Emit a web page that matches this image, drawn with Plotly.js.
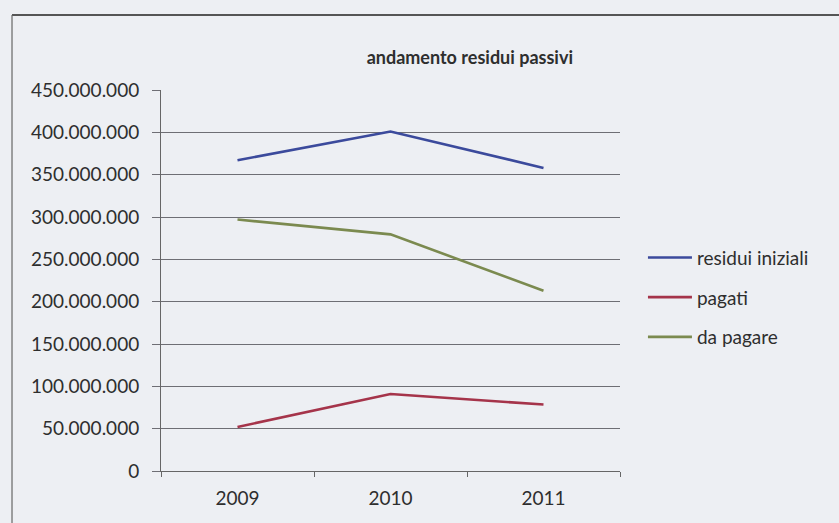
<!DOCTYPE html>
<html>
<head>
<meta charset="utf-8">
<script src="https://cdn.plot.ly/plotly-3.0.1.min.js"></script>
<style>
html,body{margin:0;padding:0;background:#edeff3;}
#chart{width:839px;height:523px;}
</style>
</head>
<body>
<div id="chart"></div>
<script>
var years = ['2009', '2010', '2011'];
var residuiIniziali = [367000000, 401000000, 358000000];
var pagati = [52000000, 91000000, 78500000];
var daPagare = [297000000, 279500000, 213000000];
var seriesNames = ['residui iniziali', 'pagati', 'da pagare'];
var yTicks = [0, 50000000, 100000000, 150000000, 200000000, 250000000, 300000000, 350000000, 400000000, 450000000];

var colors = ['#3b4a9c', '#a5344a', '#7b8a4f'];
var seriesValues = [residuiIniziali, pagati, daPagare];

var traces = seriesValues.map(function (vals, i) {
  return {
    type: 'scatter',
    mode: 'lines',
    x: years,
    y: vals,
    name: seriesNames[i],
    legendgroup: 'g' + i,
    line: {color: colors[i], width: 2.6},
    hoverinfo: 'none'
  };
});

var font = 'Lato, "Open Sans", sans-serif';
var txt = '#2e2e2e';
var layout = {
  width: 839,
  height: 523,
  paper_bgcolor: '#edeff3',
  plot_bgcolor: '#edeff3',
  separators: ',.',
  margin: {l: 161, r: 219, t: 90, b: 52},
  font: {family: font, size: 19, color: txt},
  title: {
    text: '<b>andamento residui passivi</b>',
    font: {family: font, size: 18, color: txt},
    xref: 'container', yref: 'container',
    x: 0.56, xanchor: 'center',
    y: 0.889, yanchor: 'middle'
  },
  xaxis: {
    type: 'category',
    range: [-0.5, 2.5],
    tickson: 'boundaries',
    ticks: 'outside',
    ticklen: 5,
    tickcolor: '#666',
    ticklabelstandoff: 10,
    showgrid: false,
    showline: true,
    linecolor: '#666',
    linewidth: 1,
    tickfont: {family: font, size: 19, color: txt},
    fixedrange: true
  },
  yaxis: {
    range: [0, 450000000],
    tickvals: yTicks,
    tickformat: ',d',
    ticks: 'outside',
    ticklen: 8,
    tickcolor: '#6e6e74',
    ticklabelstandoff: 9,
    showgrid: true,
    gridcolor: '#6e6e74',
    gridwidth: 1,
    showline: true,
    linecolor: '#666',
    linewidth: 1,
    zeroline: false,
    tickfont: {family: font, size: 19, color: txt},
    fixedrange: true
  },
  showlegend: true,
  legend: {
    x: 1.05, xanchor: 'left',
    y: 0.61, yanchor: 'top',
    bgcolor: 'rgba(0,0,0,0)',
    traceorder: 'grouped',
    tracegroupgap: 12,
    itemwidth: 44,
    font: {family: font, size: 19, color: txt}
  },
  shapes: [
    {type: 'line', xref: 'paper', yref: 'paper', x0: -0.3246, x1: 1.6, y0: 1.1969, y1: 1.1969, line: {color: '#555', width: 2}},
    {type: 'line', xref: 'paper', yref: 'paper', x0: -0.3246, x1: -0.3246, y0: 1.1969, y1: -0.2, line: {color: '#666', width: 1.2}}
  ]
};

Plotly.newPlot('chart', traces, layout, {displayModeBar: false, staticPlot: true});
</script>
</body>
</html>
